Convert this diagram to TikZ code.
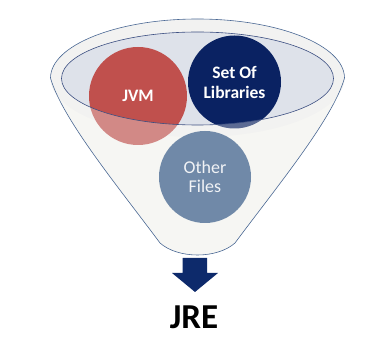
\documentclass[tikz,border=0pt]{standalone}
\usepackage{fontspec}
\setmainfont{Carlito}
\usetikzlibrary{shapes.geometric}
\definecolor{rimfill}{HTML}{F6F6F3}
\definecolor{innerfill}{HTML}{DEE2EA}
\definecolor{edgeblue}{HTML}{4A6894}
\definecolor{jvmred}{HTML}{C0504D}
\definecolor{navy}{HTML}{0A2262}
\definecolor{otherblue}{HTML}{7089A8}
\definecolor{arrownavy}{HTML}{0D2A6B}
\tikzset{
  ball/.style={circle, inner sep=0pt, align=center, text=white},
  ballbold/.style={ball, font=\bfseries\fontsize{17.5}{20}\selectfont},
  ballreg/.style={ball, font=\fontsize{18}{19}\selectfont, text=white!90!otherblue},
  rimline/.style={draw=edgeblue, line width=0.6pt},
}
\begin{document}
\begin{tikzpicture}[x=1pt,y=1pt]
\useasboundingbox (0,0) rectangle (378,359);
% funnel silhouette
\path[fill=rimfill] (50.5,281) .. controls (62,240) and (120,170) .. (160,116)
  .. controls (178,100) and (217,100) .. (235,116)
  .. controls (275,170) and (333,240) .. (344.5,281)
  arc[start angle=0, end angle=180, x radius=147pt, y radius=59pt] -- cycle;
% top rim a little greyer
\fill[black!6] (197.5,281) ellipse[x radius=147pt, y radius=59pt];
% inner ellipse (mouth)
\node[ellipse, fill=innerfill, minimum width=272pt, minimum height=93pt, inner sep=0pt] (mouth) at (197.5,280.5) {};
% balls
\node[ballbold, fill=jvmred, minimum size=98pt] (jvm) at (138,263) {JVM};
\node[ballbold, fill=navy, minimum size=93pt] (lib) at (234.5,277) {Set Of\\Libraries};
% front wall overlay (semi transparent)
\path[fill=rimfill, fill opacity=0.35, even odd rule]
  (50.5,281) .. controls (62,240) and (120,170) .. (160,116)
  .. controls (178,100) and (217,100) .. (235,116)
  .. controls (275,170) and (333,240) .. (344.5,281)
  arc[start angle=0, end angle=180, x radius=147pt, y radius=59pt] -- cycle
  (197.5,280.5) ellipse[x radius=136pt, y radius=46.5pt];
\node[ballreg, fill=otherblue, minimum size=92pt] (other) at (205,182) {Other\\Files};
% outlines
\draw[rimline] (50.5,281) .. controls (62,240) and (120,170) .. (160,116)
  .. controls (178,100) and (217,100) .. (235,116)
  .. controls (275,170) and (333,240) .. (344.5,281)
  arc[start angle=0, end angle=180, x radius=147pt, y radius=59pt] -- cycle;
\draw[draw=navy!80, line width=0.6pt] (mouth.center) ellipse[x radius=136pt, y radius=46.5pt];
% arrow
\fill[arrownavy] (182.5,101) -- (207,101) -- (207,86) -- (218,86) -- (195,67) -- (172,86) -- (182.5,86) -- cycle;
% result
\node[font=\bfseries\fontsize{35}{40}\selectfont] (jre) at (194,42) {JRE};
\end{tikzpicture}
\end{document}
